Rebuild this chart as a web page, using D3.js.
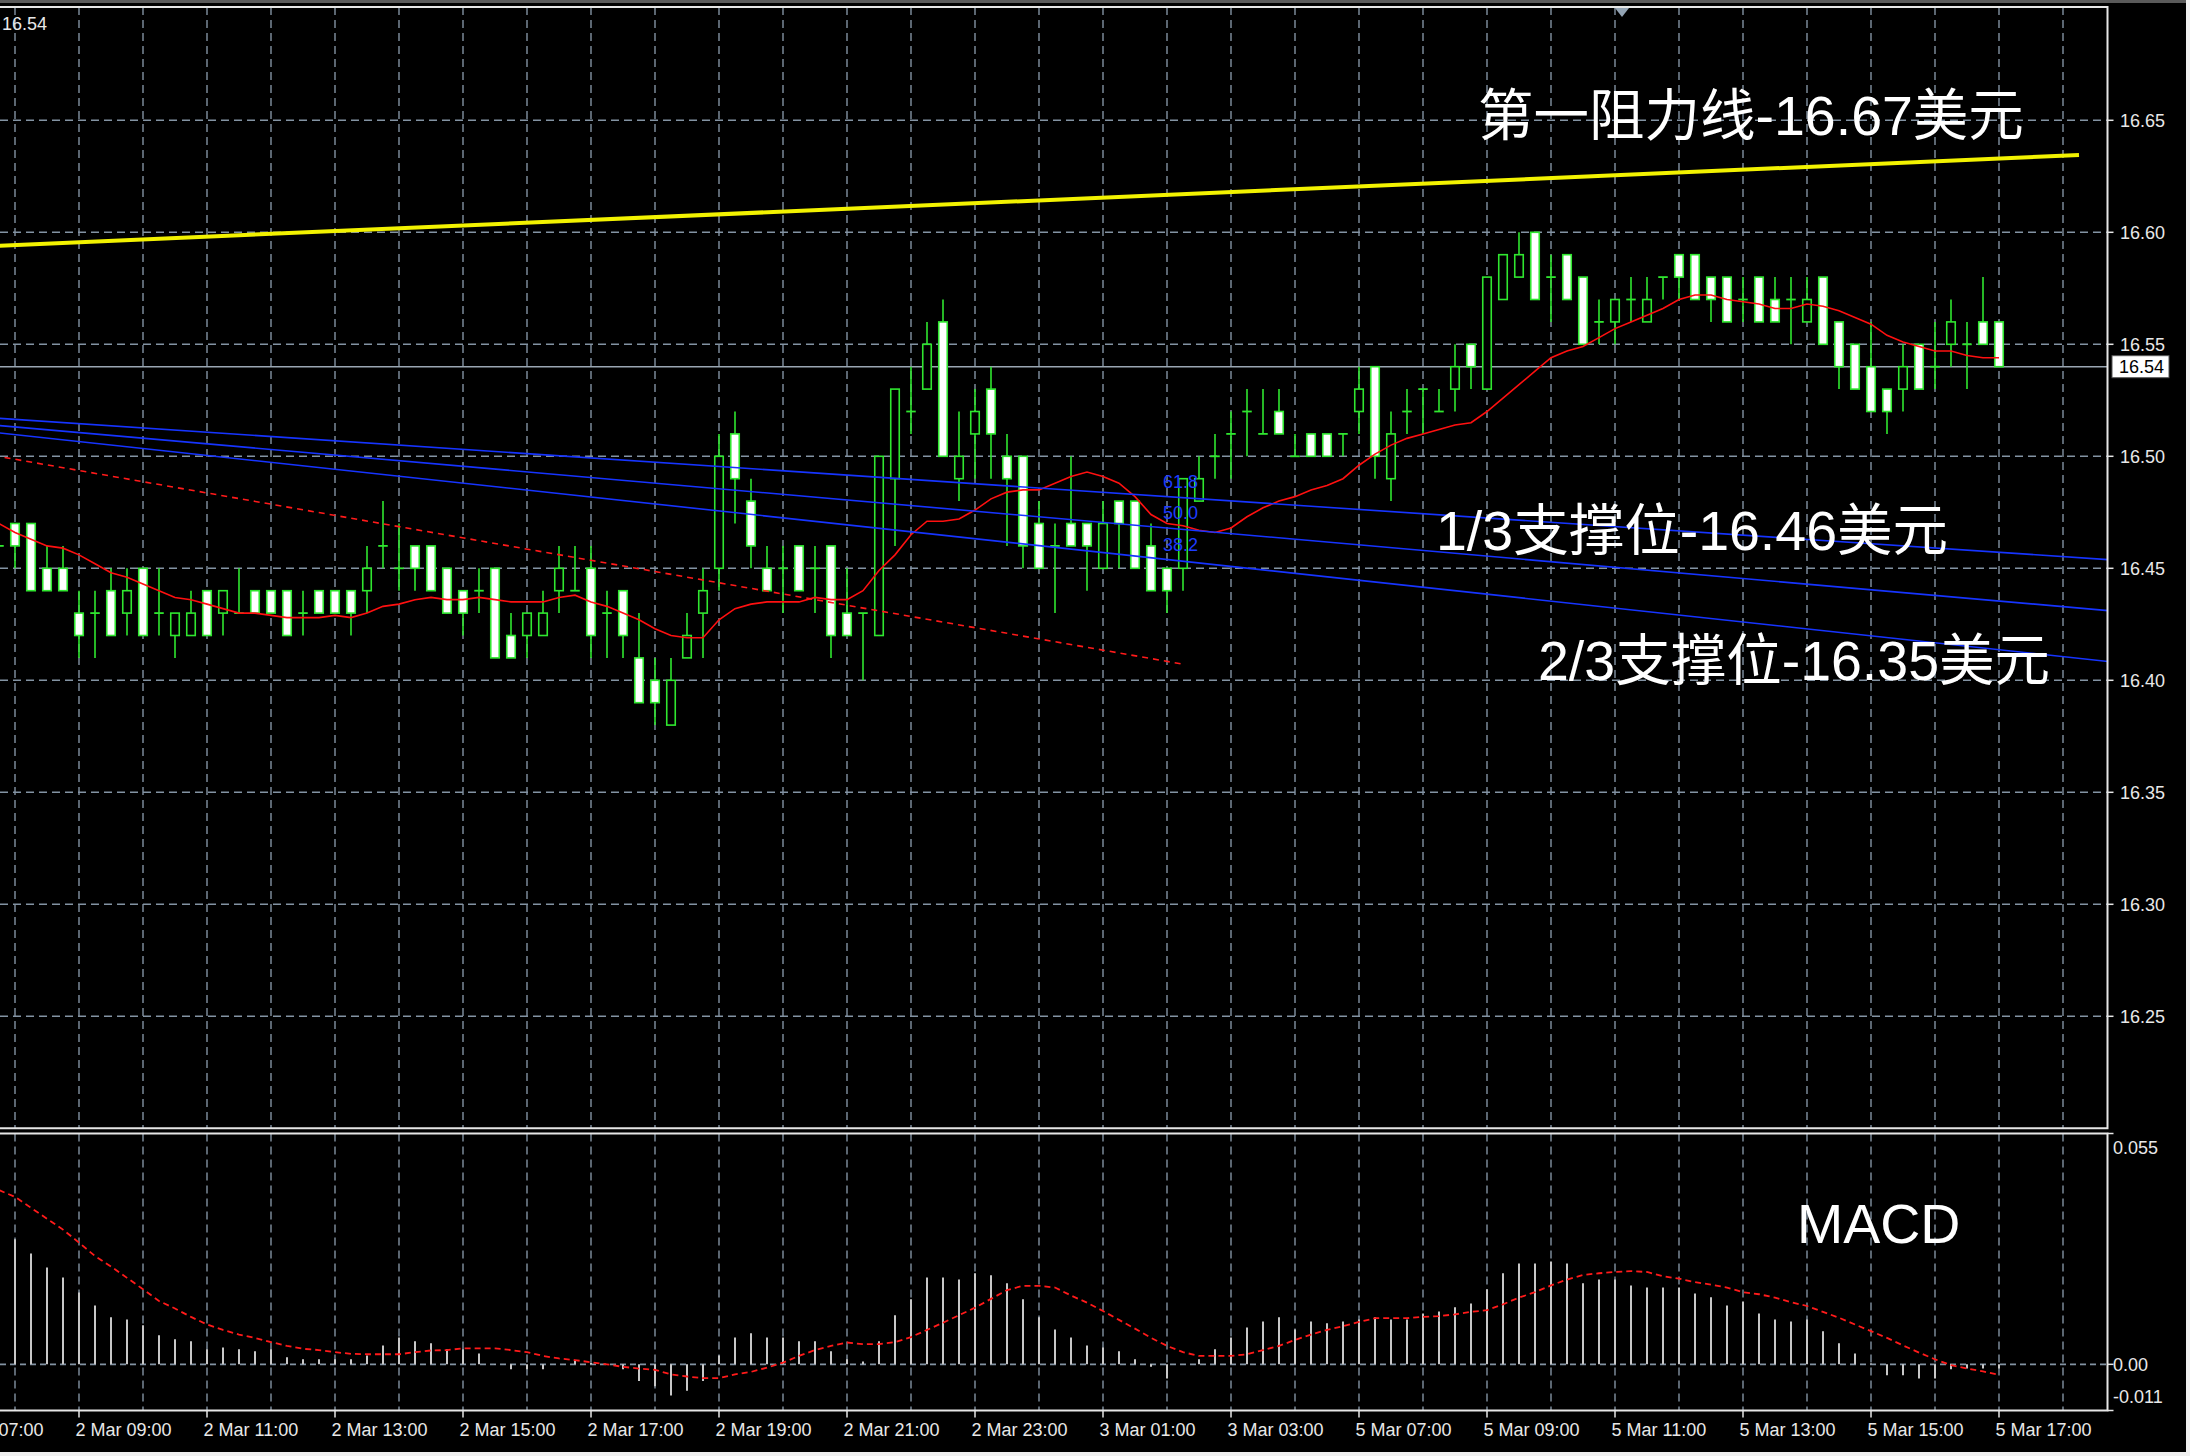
<!DOCTYPE html>
<html>
<head>
<meta charset="utf-8">
<script src="https://cdn.jsdelivr.net/npm/d3@7"></script>
<style>
  html, body { margin: 0; padding: 0; background: #f0f0f0; }
  svg { display: block; }
  text { font-family: "Liberation Sans", Arial, "Noto Sans CJK SC", sans-serif; }
</style>
</head>
<body>
<svg id="chart" width="2190" height="1456"></svg>
<script>
// ---- M15 candles (bar 0 = 2 Mar 07:45 ... bar 125 = 5 Mar 17:00) ----
const opens = [
  16.46,16.47,16.47,16.45,16.45,16.43,16.43,16.44,16.43,16.45,
  16.43,16.42,16.42,16.44,16.43,16.43,16.44,16.44,16.44,16.43,
  16.44,16.44,16.44,16.44,16.46,16.45,16.46,16.46,16.45,16.44,
  16.44,16.45,16.42,16.42,16.42,16.44,16.44,16.45,16.43,16.44,
  16.41,16.40,16.38,16.41,16.43,16.45,16.51,16.48,16.45,16.45,
  16.46,16.45,16.46,16.43,16.43,16.42,16.49,16.52,16.53,16.56,
  16.49,16.51,16.53,16.50,16.50,16.47,16.46,16.47,16.47,16.45,
  16.48,16.48,16.46,16.45,16.45,16.48,16.50,16.51,16.52,16.51,
  16.52,16.50,16.51,16.51,16.51,16.52,16.54,16.49,16.52,16.53,
  16.52,16.53,16.55,16.53,16.57,16.58,16.60,16.58,16.59,16.58,
  16.56,16.56,16.57,16.56,16.58,16.59,16.59,16.58,16.58,16.57,
  16.58,16.57,16.57,16.56,16.58,16.56,16.55,16.54,16.53,16.53,
  16.55,16.54,16.55,16.55,16.56,16.56
];
const highs = [
  16.47,16.47,16.47,16.46,16.46,16.44,16.44,16.45,16.45,16.45,
  16.45,16.43,16.44,16.44,16.44,16.45,16.44,16.44,16.44,16.44,
  16.44,16.44,16.44,16.46,16.48,16.47,16.46,16.46,16.45,16.44,
  16.45,16.45,16.43,16.43,16.44,16.46,16.46,16.46,16.44,16.44,
  16.43,16.41,16.41,16.43,16.45,16.51,16.52,16.49,16.46,16.46,
  16.46,16.46,16.46,16.45,16.43,16.50,16.53,16.54,16.56,16.57,
  16.52,16.53,16.54,16.51,16.50,16.48,16.47,16.50,16.47,16.48,
  16.48,16.48,16.47,16.45,16.49,16.50,16.51,16.52,16.53,16.53,
  16.53,16.51,16.51,16.51,16.51,16.54,16.54,16.52,16.53,16.53,
  16.53,16.55,16.55,16.58,16.59,16.60,16.60,16.59,16.59,16.58,
  16.57,16.57,16.58,16.58,16.58,16.59,16.59,16.58,16.58,16.58,
  16.58,16.58,16.58,16.58,16.58,16.56,16.55,16.56,16.53,16.55,
  16.55,16.56,16.57,16.56,16.58,16.56
];
const lows = [
  16.45,16.45,16.44,16.44,16.44,16.41,16.41,16.42,16.42,16.42,
  16.42,16.41,16.42,16.42,16.42,16.43,16.43,16.43,16.42,16.42,
  16.43,16.43,16.42,16.43,16.45,16.44,16.44,16.44,16.43,16.42,
  16.43,16.41,16.41,16.41,16.42,16.43,16.44,16.41,16.41,16.41,
  16.39,16.38,16.38,16.41,16.41,16.44,16.47,16.45,16.44,16.43,
  16.44,16.43,16.41,16.42,16.40,16.42,16.46,16.51,16.53,16.50,
  16.48,16.49,16.49,16.46,16.45,16.45,16.43,16.46,16.44,16.45,
  16.45,16.45,16.44,16.43,16.44,16.48,16.49,16.49,16.50,16.51,
  16.51,16.50,16.50,16.50,16.50,16.51,16.49,16.48,16.51,16.51,
  16.52,16.52,16.53,16.53,16.57,16.58,16.57,16.56,16.57,16.55,
  16.55,16.55,16.56,16.56,16.57,16.57,16.57,16.56,16.56,16.56,
  16.56,16.56,16.55,16.56,16.55,16.53,16.53,16.52,16.51,16.52,
  16.53,16.53,16.54,16.53,16.55,16.54
];
const closes = [
  16.46,16.46,16.44,16.44,16.44,16.42,16.43,16.42,16.44,16.42,
  16.43,16.43,16.43,16.42,16.44,16.43,16.43,16.43,16.42,16.43,
  16.43,16.43,16.43,16.45,16.46,16.45,16.45,16.44,16.43,16.43,
  16.44,16.41,16.41,16.43,16.43,16.45,16.44,16.42,16.43,16.42,
  16.39,16.39,16.40,16.42,16.44,16.50,16.49,16.46,16.44,16.45,
  16.44,16.45,16.42,16.42,16.43,16.50,16.53,16.52,16.55,16.50,
  16.50,16.52,16.51,16.49,16.46,16.45,16.46,16.46,16.46,16.47,
  16.47,16.45,16.44,16.44,16.49,16.49,16.50,16.51,16.52,16.51,
  16.51,16.50,16.50,16.50,16.51,16.53,16.50,16.51,16.52,16.53,
  16.52,16.54,16.54,16.58,16.59,16.59,16.57,16.58,16.57,16.55,
  16.56,16.57,16.57,16.57,16.58,16.58,16.57,16.57,16.56,16.57,
  16.56,16.56,16.57,16.57,16.55,16.54,16.53,16.52,16.52,16.54,
  16.53,16.54,16.56,16.55,16.55,16.54
];
// moving average drawn over the candles
const maValues = [
  16.470,16.466,16.463,16.460,16.459,16.456,16.452,16.448,16.446,16.443,
  16.440,16.437,16.436,16.434,16.432,16.430,16.430,16.429,16.428,16.428,
  16.428,16.429,16.428,16.430,16.433,16.434,16.436,16.437,16.436,16.436,
  16.437,16.436,16.435,16.435,16.435,16.437,16.438,16.435,16.433,16.430,
  16.427,16.423,16.420,16.419,16.419,16.427,16.432,16.434,16.435,16.435,
  16.435,16.437,16.436,16.436,16.440,16.449,16.456,16.465,16.471,16.471,
  16.472,16.476,16.481,16.484,16.485,16.485,16.488,16.491,16.493,16.491,
  16.488,16.482,16.474,16.470,16.469,16.467,16.466,16.468,16.473,16.477,
  16.480,16.482,16.485,16.487,16.490,16.496,16.501,16.505,16.508,16.510,
  16.512,16.514,16.515,16.520,16.526,16.532,16.538,16.544,16.547,16.549,
  16.553,16.557,16.560,16.563,16.566,16.570,16.572,16.572,16.570,16.569,
  16.568,16.566,16.566,16.568,16.567,16.565,16.562,16.559,16.554,16.551,
  16.549,16.547,16.547,16.545,16.544,16.544
];
// MACD main (histogram) and signal
const macdMain = [
  0.0315,0.0298,0.0264,0.0231,0.0207,0.0171,0.0140,0.0112,0.0107,0.0093,
  0.0069,0.0060,0.0055,0.0036,0.0040,0.0036,0.0031,0.0036,0.0017,0.0012,
  0.0012,0.0012,0.0012,0.0021,0.0045,0.0064,0.0055,0.0050,0.0036,0.0036,
  0.0026,0.0001,-0.0012,-0.0012,-0.0012,0.0000,0.0008,0.0004,0.0000,-0.0012,
  -0.0040,-0.0052,-0.0074,-0.0063,-0.0040,0.0021,0.0064,0.0074,0.0064,0.0064,
  0.0055,0.0055,0.0031,0.0012,0.0007,0.0055,0.0117,0.0155,0.0207,0.0207,
  0.0202,0.0217,0.0212,0.0193,0.0155,0.0112,0.0083,0.0064,0.0045,0.0040,
  0.0031,0.0012,-0.0006,-0.0034,0.0000,0.0012,0.0036,0.0064,0.0088,0.0102,
  0.0112,0.0083,0.0102,0.0098,0.0102,0.0107,0.0112,0.0107,0.0107,0.0121,
  0.0126,0.0136,0.0145,0.0179,0.0217,0.0240,0.0240,0.0245,0.0240,0.0193,
  0.0202,0.0202,0.0188,0.0183,0.0183,0.0183,0.0169,0.0160,0.0140,0.0150,
  0.0121,0.0107,0.0102,0.0107,0.0079,0.0050,0.0026,0.0002,-0.0026,-0.0026,
  -0.0034,-0.0034,-0.0012,-0.0010,-0.0010,-0.0010
];
const macdSignal = [
  0.0415,0.0399,0.0373,0.0347,0.0321,0.0290,0.0258,0.0233,0.0206,0.0179,
  0.0151,0.0133,0.0113,0.0095,0.0082,0.0071,0.0063,0.0053,0.0044,0.0037,
  0.0034,0.0029,0.0025,0.0024,0.0024,0.0024,0.0029,0.0033,0.0034,0.0038,
  0.0038,0.0038,0.0034,0.0029,0.0020,0.0014,0.0010,0.0005,0.0000,-0.0006,
  -0.0010,-0.0013,-0.0024,-0.0029,-0.0033,-0.0033,-0.0024,-0.0018,-0.0008,0.0004,
  0.0020,0.0034,0.0044,0.0052,0.0048,0.0048,0.0053,0.0065,0.0082,0.0099,
  0.0117,0.0135,0.0156,0.0177,0.0187,0.0187,0.0183,0.0164,0.0147,0.0127,
  0.0106,0.0085,0.0063,0.0044,0.0029,0.0020,0.0020,0.0020,0.0024,0.0034,
  0.0044,0.0058,0.0071,0.0082,0.0091,0.0101,0.0110,0.0110,0.0110,0.0113,
  0.0115,0.0119,0.0125,0.0129,0.0143,0.0159,0.0172,0.0188,0.0202,0.0213,
  0.0217,0.0220,0.0222,0.0220,0.0210,0.0204,0.0196,0.0190,0.0183,0.0172,
  0.0167,0.0159,0.0148,0.0139,0.0125,0.0111,0.0095,0.0079,0.0063,0.0045,
  0.0028,0.0012,-0.0002,-0.0010,-0.0017,-0.0025
];
// time axis: bar index of each label and its text
const timeTickBars = [-3,5,13,21,29,37,45,53,61,69,77,85,93,101,109,117,125];
const timeTickLabels = [
  "2 Mar 07:00","2 Mar 09:00","2 Mar 11:00","2 Mar 13:00","2 Mar 15:00",
  "2 Mar 17:00","2 Mar 19:00","2 Mar 21:00","2 Mar 23:00","3 Mar 01:00",
  "3 Mar 03:00","5 Mar 07:00","5 Mar 09:00","5 Mar 11:00","5 Mar 13:00",
  "5 Mar 15:00","5 Mar 17:00"
];
const priceTicks = [16.65,16.60,16.55,16.50,16.45,16.40,16.35,16.30,16.25];
const macdTicks = [0.055, 0.00, -0.011];
const lastPrice = 16.54;
// hand-drawn objects
const resistanceLine = [{bar: 0, price: 16.594}, {bar: 130, price: 16.6345}];
const fanAnchors = [{bar: -22, price: 16.5275}, {bar: 74, price: 16.4072}];
const fanLevels = [0.618, 0.5, 0.382];
const noteTexts = ["第一阻力线-16.67美元", "1/3支撑位-16.46美元", "2/3支撑位-16.35美元", "MACD"];

// ---- layout ----
const W = 2190, H = 1456;
const plotRight = 2107.5;
const main = {top: 7, bottom: 1128.3};
const sub = {top: 1133.5, bottom: 1410.5};
const gridColor = "#8393a3";
const candleGreen = "#2fe62f";
const axisFont = 18;

const svg = d3.select("#chart");

const x = d3.scaleLinear().domain([0, 125]).range([-1, 1999]);
const y = d3.scaleLinear().domain([16.20, 16.70]).range([1128.3, 8.3]);
const ym = d3.scaleLinear().domain([-0.011, 0.055]).range([sub.bottom, sub.top]);

// window background
svg.append("rect").attr("x", 0).attr("y", 0).attr("width", W).attr("height", H).attr("fill", "#f0f0f0");
svg.append("rect").attr("x", 0).attr("y", 0).attr("width", 2186).attr("height", 1452).attr("fill", "#000");
svg.append("rect").attr("x", 0).attr("y", 0).attr("width", 2186).attr("height", 3).attr("fill", "#5a5a5a");

const defs = svg.append("defs");
defs.append("clipPath").attr("id", "clipMain").append("rect")
  .attr("x", 0).attr("y", main.top).attr("width", plotRight).attr("height", main.bottom - main.top);
defs.append("clipPath").attr("id", "clipSub").append("rect")
  .attr("x", 0).attr("y", sub.top).attr("width", plotRight).attr("height", sub.bottom - sub.top);

// ---- grid ----
const gridBars = d3.range(1, 130, 4);
const gMainGrid = svg.append("g").attr("clip-path", "url(#clipMain)");
gMainGrid.selectAll("line.v").data(gridBars).join("line")
  .attr("x1", d => x(d)).attr("x2", d => x(d))
  .attr("y1", main.top).attr("y2", main.bottom)
  .attr("stroke", gridColor).attr("stroke-width", 1.4).attr("stroke-dasharray", "8,5");
gMainGrid.selectAll("line.h").data(priceTicks).join("line")
  .attr("x1", 0).attr("x2", plotRight)
  .attr("y1", d => y(d)).attr("y2", d => y(d))
  .attr("stroke", gridColor).attr("stroke-width", 1.4).attr("stroke-dasharray", "8,5");

const gSubGrid = svg.append("g").attr("clip-path", "url(#clipSub)");
gSubGrid.selectAll("line.v").data(gridBars).join("line")
  .attr("x1", d => x(d)).attr("x2", d => x(d))
  .attr("y1", sub.top).attr("y2", sub.bottom)
  .attr("stroke", gridColor).attr("stroke-width", 1.4).attr("stroke-dasharray", "8,5");
gSubGrid.append("line")
  .attr("x1", 0).attr("x2", plotRight).attr("y1", ym(0)).attr("y2", ym(0))
  .attr("stroke", gridColor).attr("stroke-width", 1.6).attr("stroke-dasharray", "6,4");

// ---- main panel ----
const gMain = svg.append("g").attr("clip-path", "url(#clipMain)");

// last price line
gMain.append("line")
  .attr("x1", 0).attr("x2", plotRight).attr("y1", y(lastPrice)).attr("y2", y(lastPrice))
  .attr("stroke", "#9aa6b2").attr("stroke-width", 1.5);

const bars = d3.range(opens.length).map(i => ({i, o: opens[i], h: highs[i], l: lows[i], c: closes[i]}));

// wicks
gMain.selectAll("line.wick").data(bars).join("line")
  .attr("x1", d => x(d.i)).attr("x2", d => x(d.i))
  .attr("y1", d => y(d.h)).attr("y2", d => y(d.l))
  .attr("stroke", candleGreen).attr("stroke-width", 1.6);

const bodyHalf = 4.25;
// doji ticks
gMain.selectAll("line.doji").data(bars.filter(d => d.o === d.c)).join("line")
  .attr("x1", d => x(d.i) - bodyHalf - 0.5).attr("x2", d => x(d.i) + bodyHalf + 0.5)
  .attr("y1", d => y(d.o)).attr("y2", d => y(d.o))
  .attr("stroke", candleGreen).attr("stroke-width", 1.8);
// bodies: white when falling, black when rising
gMain.selectAll("rect.body").data(bars.filter(d => d.o !== d.c)).join("rect")
  .attr("x", d => x(d.i) - bodyHalf)
  .attr("width", bodyHalf * 2)
  .attr("y", d => y(Math.max(d.o, d.c)))
  .attr("height", d => Math.abs(y(d.o) - y(d.c)))
  .attr("fill", d => d.c < d.o ? "#ffffff" : "#000000")
  .attr("stroke", candleGreen).attr("stroke-width", 1.6);

// moving average
gMain.append("path")
  .datum(maValues)
  .attr("d", d3.line().x((d, i) => x(i)).y(d => y(d)))
  .attr("fill", "none").attr("stroke", "#ff1010").attr("stroke-width", 1.6);

// resistance trend line
gMain.append("line")
  .attr("x1", x(resistanceLine[0].bar)).attr("y1", y(resistanceLine[0].price))
  .attr("x2", x(resistanceLine[1].bar)).attr("y2", y(resistanceLine[1].price))
  .attr("stroke", "#f2f200").attr("stroke-width", 4);

// Fibonacci fan
const p1 = fanAnchors[0], p2 = fanAnchors[1];
gMain.append("line")
  .attr("x1", x(p1.bar)).attr("y1", y(p1.price))
  .attr("x2", x(p2.bar)).attr("y2", y(p2.price))
  .attr("stroke", "#ff1a1a").attr("stroke-width", 1.6).attr("stroke-dasharray", "6,5");
const farBar = x.invert(plotRight + 5);
fanLevels.forEach(L => {
  const pAt2 = p2.price + L * (p1.price - p2.price);
  const slope = (pAt2 - p1.price) / (p2.bar - p1.bar);
  const pFar = p1.price + slope * (farBar - p1.bar);
  gMain.append("line")
    .attr("x1", x(p1.bar)).attr("y1", y(p1.price))
    .attr("x2", x(farBar)).attr("y2", y(pFar))
    .attr("stroke", "#1634ff").attr("stroke-width", 1.6);
  gMain.append("text")
    .attr("x", x(p2.bar) - 20).attr("y", y(pAt2) - 10)
    .attr("font-size", axisFont).attr("fill", "#1e3cff")
    .text((L * 100).toFixed(1));
});

// ---- MACD panel ----
const gSub = svg.append("g").attr("clip-path", "url(#clipSub)");
gSub.selectAll("line.hist").data(macdMain).join("line")
  .attr("x1", (d, i) => x(i)).attr("x2", (d, i) => x(i))
  .attr("y1", ym(0)).attr("y2", d => ym(d))
  .attr("stroke", "#c8c8c8").attr("stroke-width", 2);
gSub.append("path")
  .datum(macdSignal)
  .attr("d", d3.line().x((d, i) => x(i)).y(d => ym(d)))
  .attr("fill", "none").attr("stroke", "#ff1a1a").attr("stroke-width", 1.8)
  .attr("stroke-dasharray", "6,4");

// ---- frames ----
const frame = svg.append("g").attr("stroke", "#e6e6e6").attr("stroke-width", 2).attr("fill", "none");
frame.append("path").attr("d", `M0,${main.top}H${plotRight}V${main.bottom}H0`);
frame.append("path").attr("d", `M0,${sub.top}H${plotRight}V${sub.bottom}H0`);

// chart shift marker
svg.append("path")
  .attr("d", d3.line()([[1615, 8], [1629, 8], [1622, 17]]) + "Z")
  .attr("fill", "#93a3b3");

// ---- price axis ----
const axisText = "#e8e8e8";
priceTicks.forEach(p => {
  svg.append("line").attr("x1", plotRight).attr("x2", plotRight + 6)
    .attr("y1", y(p)).attr("y2", y(p)).attr("stroke", "#e6e6e6").attr("stroke-width", 1.5);
  svg.append("text").attr("x", 2120).attr("y", y(p) + 6.5)
    .attr("font-size", axisFont).attr("fill", axisText).text(p.toFixed(2));
});
// last price tag
svg.append("rect").attr("x", 2112).attr("y", y(lastPrice) - 11).attr("width", 57).attr("height", 22)
  .attr("fill", "#ffffff").attr("stroke", "#555").attr("stroke-width", 1);
svg.append("text").attr("x", 2119).attr("y", y(lastPrice) + 6.5)
  .attr("font-size", axisFont).attr("fill", "#000").text(lastPrice.toFixed(2));
// value in the top-left corner
svg.append("text").attr("x", 2).attr("y", 30)
  .attr("font-size", axisFont).attr("fill", axisText).text(lastPrice.toFixed(2));

// ---- MACD axis ----
macdTicks.forEach(v => {
  svg.append("line").attr("x1", plotRight).attr("x2", plotRight + 6)
    .attr("y1", ym(v)).attr("y2", ym(v)).attr("stroke", "#e6e6e6").attr("stroke-width", 1.5);
  const ty = Math.min(Math.max(ym(v), sub.top + 14), sub.bottom - 14);
  svg.append("text").attr("x", 2113).attr("y", ty + 6.5)
    .attr("font-size", axisFont).attr("fill", axisText)
    .text(v === 0 ? "0.00" : String(v));
});

// ---- time axis ----
timeTickBars.forEach((b, k) => {
  svg.append("line").attr("x1", x(b)).attr("x2", x(b))
    .attr("y1", sub.bottom).attr("y2", sub.bottom + 7)
    .attr("stroke", "#e6e6e6").attr("stroke-width", 1.5);
  svg.append("text").attr("x", x(b) - 3.5).attr("y", 1435.5)
    .attr("font-size", axisFont).attr("fill", axisText).text(timeTickLabels[k]);
});

// ---- annotations ----
const notePos = [[1478, 135], [1436, 550], [1538, 680], [1797, 1243]];
noteTexts.forEach((t, k) => {
  svg.append("text").attr("x", notePos[k][0]).attr("y", notePos[k][1])
    .attr("font-size", 55.5).attr("fill", "#ffffff").text(t);
});
</script>
</body>
</html>
